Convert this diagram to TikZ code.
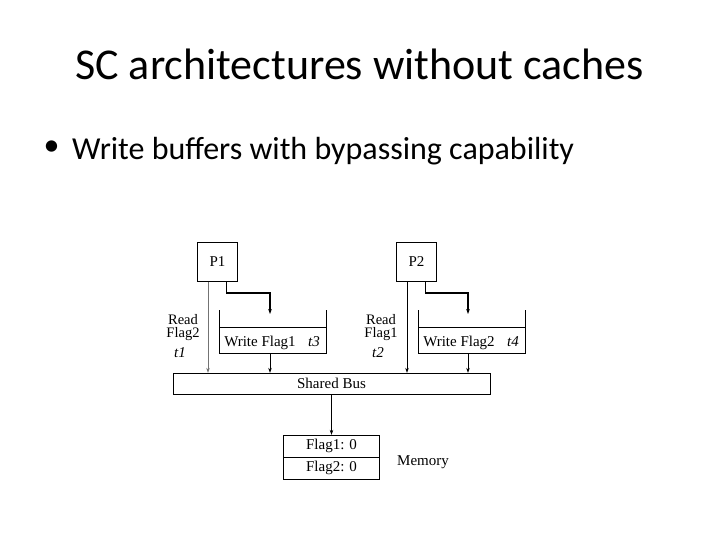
\documentclass[tikz,border=0pt]{standalone}
\usepackage{fontspec}
\setmainfont{Liberation Serif}
\newfontfamily\slidefont{Carlito}
\usetikzlibrary{arrows.meta}

\begin{document}
\begin{tikzpicture}[x=1pt, y=-1pt, font=\fontsize{15}{15}\selectfont,
  pbox/.style={draw,minimum width=40pt,minimum height=39pt,inner sep=0pt},
  wbuf/.style={draw,minimum width=107pt,minimum height=26pt,inner sep=0pt},
  cell/.style={draw,minimum width=96pt,minimum height=22pt,inner sep=0pt},
  txt/.style={inner sep=0pt,anchor=base},
  rlbl/.style={inner sep=0pt,anchor=base,align=center,font=\fontsize{14.5}{13}\selectfont},
  wire/.style={-{Stealth[length=5pt,width=3.6pt]},line width=0.6pt},
  feed/.style={-{Stealth[length=5pt,width=3.6pt]},line width=1.4pt}]
\useasboundingbox (0,0) rectangle (720,540);
% slide text
\node[font=\slidefont\fontsize{44}{44}\selectfont,txt] (title) at (359.5,80) {SC architectures without caches};
\node[font=\slidefont\fontsize{32}{32}\selectfont,inner sep=0pt] (dot) at (51.7,148) {•};
\node[font=\slidefont\fontsize{32}{32}\selectfont,txt,anchor=base west] (point) at (72,159.3) {Write buffers with bypassing capability};
% processors and write buffers
\node[pbox] (p1) at (217.5,262) {P1};
\node[pbox] (p2) at (416.5,262) {P2};
\node[wbuf] (wb1) at (272.5,340) {};
\node[wbuf] (wb2) at (471.5,340) {};
\draw (wb1.north west) -- ++(0,-17); \draw (wb1.north east) -- ++(0,-17);
\draw (wb2.north west) -- ++(0,-17); \draw (wb2.north east) -- ++(0,-17);
\node[txt] (w1) at (260,346.5) {Write Flag1};
\node[txt,font=\fontsize{15}{15}\selectfont\itshape] (t3) at (314,346.5) {t3};
\node[txt] (w2) at (459,346.5) {Write Flag2};
\node[txt,font=\fontsize{15}{15}\selectfont\itshape] (t4) at (513,346.5) {t4};
% read labels
\node[rlbl] (rd1) at (183,337.5) {Read\\Flag2};
\node[txt,font=\fontsize{15}{15}\selectfont\itshape] (t1) at (180,357) {t1};
\node[rlbl] (rd2) at (381,337.5) {Read\\Flag1};
\node[txt,font=\fontsize{15}{15}\selectfont\itshape] (t2) at (378,357) {t2};
% bus and memory
\node[draw,minimum width=317pt,minimum height=21pt,inner sep=0pt] (bus) at (331.5,383.5) {};
\node[txt] (bl) at (331.5,388) {Shared Bus};
\node[cell] (f1) at (331.5,446) {Flag1: 0};
\node[cell] (f2) at (331.5,468) {Flag2: 0};
\node[txt] (mem) at (423,465) {Memory};
% connectors
\draw[wire,black!55] ([xshift=-9.5pt]p1.south) -- ([xshift=-9.5pt]p1.south |- bus.north);
\draw[wire] ([xshift=-9.5pt]p2.south) -- ([xshift=-9.5pt]p2.south |- bus.north);
\draw[feed] ([xshift=9pt]p1.south) |- (270,293) -- (270,314);
\draw[feed] ([xshift=9pt]p2.south) |- (468,293) -- (468,314);
\draw[wire] (wb1.south -| 270,0) -- (bus.north -| 270,0);
\draw[wire] (wb2.south -| 468,0) -- (bus.north -| 468,0);
\draw[wire] (bus.south) -- (f1.north);
\end{tikzpicture}
\end{document}
